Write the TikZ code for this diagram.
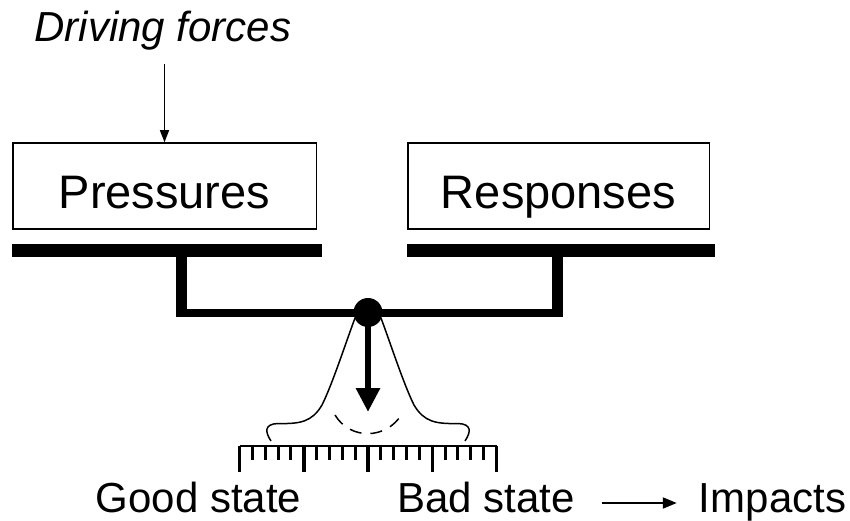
\documentclass[tikz,border=0pt]{standalone}
\usepackage{fontspec}
\setmainfont{Liberation Sans}
\usetikzlibrary{arrows.meta}
\begin{document}
\begin{tikzpicture}[x=1pt,y=-1pt,
  box/.style={draw, line width=1.5pt, inner sep=0pt, text height=44pt, text depth=0pt,
    minimum height=86pt, font=\fontsize{47}{56}\selectfont},
  lbl/.style={inner sep=0pt, anchor=base, font=\fontsize{42}{50}\selectfont},
  bar/.style={line width=13pt},
  leg/.style={line width=11pt},
  beam/.style={line width=8pt},
  curve/.style={line width=1.5pt},
  minortick/.style={line width=3pt},
  majortick/.style={line width=3.5pt},
]
\useasboundingbox (0,0) rectangle (850,521);

% boxes
\node[box, minimum width=303.5pt] (P) at (164.5,186) {Pressures};
\node[box, minimum width=301.5pt] (R) at (558.5,186) {Responses};

% driving forces
\node[lbl, font=\itshape\fontsize{42}{50}\selectfont] (df) at (163,42) {Driving forces};
\draw[line width=1.4pt, -{Triangle[width=9pt,length=12pt]}, shorten <=13pt]
  (df.south -| P.north) -- (P.north);

% pans
\draw[bar] (12,250) -- (322,250);
\draw[bar] (407,250) -- (715,250);

% legs and beam
\draw[leg] (181.5,250) -- (181.5,317);
\draw[leg] (557,250) -- (557,317);
\draw[beam] (176,313) -- (562.5,313);

% bell curve
\draw[curve] (271,441) .. controls (265,432) and (264,424) .. (278,423.5)
  .. controls (300,424) and (312,422) .. (322,405)
  .. controls (332,385) and (345,345) .. (355,318);
\draw[curve] (381,318) .. controls (391,345) and (404,385) .. (414,405)
  .. controls (424,422) and (436,424) .. (458,423.5)
  .. controls (472,424) and (471,432) .. (465,441);

% dashed arc
\draw[curve, dash pattern=on 12pt off 9pt] (335,415) .. controls (350,440) and (386,440) .. (402,414);

% pivot
\node[circle, fill=black, inner sep=0pt, minimum size=29pt] (pivot) at (368,312.5) {};
\coordinate (tip) at (368,412);
\draw[line width=6.5pt, -{Triangle[width=23pt,length=24pt]}] (pivot.center) -- (tip);

% ruler
\draw[line width=2.2pt] (239.5,446) -- (496.5,446);
\foreach \i in {0,...,20}{
  \pgfmathtruncatemacro\m{mod(\i,5)}
  \ifnum\m=0
    \draw[majortick] (239.5+12.85*\i,446) -- ++(0,26);
  \else
    \draw[minortick] (239.5+12.85*\i,446) -- ++(0,14);
  \fi
}

% bottom labels
\node[lbl] (good) at (198.5,512) {Good state};
\node[lbl] (bad) at (486,512) {Bad state};
\node[lbl] (imp) at (772.5,512) {Impacts};
\draw[line width=2pt, -{Triangle[width=11pt,length=14pt]}, shorten <=27pt, shorten >=22pt]
  ([yshift=9pt]bad.base east) -- ([yshift=9pt]imp.base west);
\end{tikzpicture}
\end{document}
